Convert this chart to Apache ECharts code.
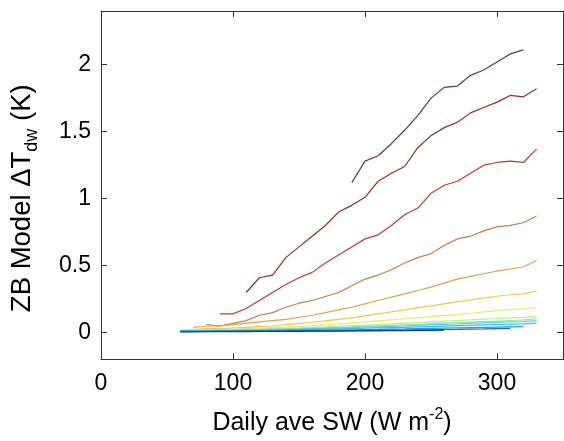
<!DOCTYPE html>
<html><head><meta charset="utf-8">
<script src="https://cdn.jsdelivr.net/npm/echarts@6/dist/echarts.min.js"></script>
<style>html,body{margin:0;padding:0;background:#fff}#c{width:564px;height:441px}</style>
</head><body><div id="c"></div>
<script>
// Daily ave SW (W m-2) sample points
var sw = [60,70,80,90,100,110,120,130,140,150,160,170,180,190,200,210,220,230,240,250,260,270,280,290,300,310,320,330];
var xTicks = [0,100,200,300];
var yTicks = [0,0.5,1,1.5,2];
// ZB model dT_dw (K), one array per curve, aligned with sw (null = no value)
var c1  = [null,null,null,null,null,null,null,null,null,null,null,null,null,1.12,1.28,1.32,1.41,1.51,1.62,1.75,1.83,1.84,1.92,1.96,2.02,2.08,2.11,null];
var c2  = [null,null,null,null,null,0.30,0.41,0.43,0.56,0.64,0.72,0.80,0.90,0.95,1.01,1.13,1.19,1.24,1.38,1.47,1.53,1.57,1.64,1.68,1.72,1.77,1.76,1.82];
var c3  = [null,null,null,0.14,0.14,0.18,0.24,0.30,0.36,0.41,0.45,0.52,0.58,0.64,0.70,0.73,0.80,0.88,0.93,1.04,1.10,1.13,1.19,1.25,1.27,1.28,1.27,1.37];
var c4  = [null,null,0.06,0.05,0.07,0.09,0.13,0.15,0.19,0.22,0.24,0.27,0.30,0.35,0.40,0.43,0.47,0.52,0.56,0.59,0.65,0.70,0.72,0.76,0.79,0.80,0.82,0.87];
var c5  = [null,0.04,0.05,0.05,0.06,0.07,0.08,0.09,0.10,0.115,0.13,0.15,0.17,0.19,0.215,0.24,0.265,0.29,0.315,0.34,0.37,0.40,0.42,0.44,0.46,0.475,0.49,0.54];
var c6  = [0.02,0.025,0.03,0.03,0.035,0.04,0.045,0.05,0.06,0.068,0.078,0.088,0.10,0.11,0.125,0.14,0.155,0.17,0.185,0.20,0.215,0.23,0.245,0.258,0.272,0.283,0.29,0.31];
var c7  = [0.018,0.02,0.022,0.024,0.026,0.03,0.034,0.038,0.042,0.047,0.053,0.06,0.066,0.073,0.08,0.088,0.096,0.104,0.112,0.12,0.128,0.136,0.145,0.155,0.165,0.172,0.178,0.19];
var c8  = [0.016,0.018,0.019,0.02,0.022,0.025,0.027,0.03,0.033,0.036,0.04,0.044,0.048,0.052,0.056,0.061,0.066,0.071,0.076,0.081,0.086,0.091,0.096,0.101,0.106,0.11,0.114,0.122];
var c9  = [0.015,0.016,0.017,0.018,0.02,0.022,0.024,0.026,0.028,0.031,0.034,0.037,0.04,0.043,0.047,0.051,0.055,0.059,0.063,0.067,0.071,0.075,0.079,0.083,0.087,0.091,0.095,0.104];
var c10 = [0.014,0.015,0.016,0.017,0.018,0.019,0.021,0.023,0.025,0.027,0.03,0.032,0.035,0.038,0.041,0.044,0.047,0.05,0.054,0.058,0.062,0.065,0.069,0.073,0.077,0.08,0.083,0.09];
var c11 = [0.012,0.013,0.014,0.015,0.016,0.017,0.018,0.02,0.021,0.023,0.025,0.027,0.029,0.031,0.033,0.036,0.038,0.04,0.043,0.046,0.049,0.052,0.055,0.058,0.061,0.064,0.066,0.072];
var c12 = [0.01,0.011,0.012,0.012,0.013,0.014,0.015,0.016,0.017,0.018,0.019,0.02,0.021,0.022,0.024,0.025,0.027,0.028,0.03,0.032,0.034,0.036,0.038,0.04,0.042,0.044,0.046,null];
var c13 = [0.008,0.009,0.009,0.01,0.01,0.011,0.011,0.012,0.012,0.013,0.014,0.014,0.015,0.016,0.017,0.018,0.019,0.02,0.021,0.022,0.024,0.025,0.027,0.028,0.03,0.032,null,null];
var c14 = [0.006,0.006,0.007,0.007,0.008,0.008,0.009,0.009,0.01,0.01,0.011,0.011,0.012,0.013,0.013,0.014,0.015,0.016,0.017,0.018,0.019,null,null,null,null,null,null,null];
var curves = [c1,c2,c3,c4,c5,c6,c7,c8,c9,c10,c11,c12,c13,c14];
var colors = ['#723434','#8e2c2c','#b83c34','#cc7a48','#e3a24a','#efc84e','#efe670','#c6ea84','#92e2a6','#56d6d6','#34c2ee','#2a96e4','#1a66d0','#0a3aa8'];

var FONT = 'Liberation Sans, Arial, Helvetica, sans-serif';
var series = curves.map(function(arr, k){
  var d = [];
  for (var i = 0; i < sw.length; i++) if (arr[i] !== null) d.push([sw[i], arr[i]]);
  return {type:'line', data:d, showSymbol:false, symbol:'none', silent:true,
    lineStyle:{color:colors[k], width:1.2}, z: 2 + k};
});
var axisCol = '#333';
function xa(pos, show){
  return {type:'value', position:pos, min:0, max:350, splitLine:{show:false},
    axisLine:{show:true, onZero:false, lineStyle:{color:axisCol, width:1}},
    axisTick:{show:true, inside:true, length:6, customValues:xTicks, lineStyle:{color:axisCol}},
    axisLabel:{show:show, customValues:xTicks, margin:13, color:'#000', fontSize:23, fontFamily:FONT},
    name: show ? '{a|Daily ave SW (W m}{p|-2}{a|)}' : '', nameLocation:'middle', nameGap:47,
    nameTextStyle:{color:'#000', fontFamily:FONT, rich:{
      a:{fontSize:25, fontFamily:FONT, color:'#000', lineHeight:34, verticalAlign:'middle'},
      p:{fontSize:16, fontFamily:FONT, color:'#000', lineHeight:16, verticalAlign:'top'}}}};
}
function ya(pos, show){
  return {type:'value', position:pos, min:-0.2, max:2.4, splitLine:{show:false},
    axisLine:{show:true, onZero:false, lineStyle:{color:axisCol, width:1}},
    axisTick:{show:true, inside:true, length:6, customValues:yTicks, lineStyle:{color:axisCol}},
    axisLabel:{show:show, customValues:yTicks, margin:10, color:'#000', fontSize:23, fontFamily:FONT},
    name: show ? '{a|ZB Model \u0394T}{s|dw}{a| (K)}' : '', nameLocation:'middle', nameGap:60, nameRotate:90,
    nameTextStyle:{color:'#000', fontFamily:FONT, padding:[0,26,0,0], rich:{
      a:{fontSize:27.5, fontFamily:FONT, color:'#000', lineHeight:38, verticalAlign:'middle'},
      s:{fontSize:18, fontFamily:FONT, color:'#000', lineHeight:18, verticalAlign:'bottom'}}}};
}
var chart = echarts.init(document.getElementById('c'), null, {renderer:'canvas'});
chart.setOption({
  animation:false,
  backgroundColor:'#fff',
  grid:{left:98, right:1, top:11, bottom:74, containLabel:false},
  xAxis:[xa('bottom', true), xa('top', false)],
  yAxis:[ya('left', true), ya('right', false)],
  series: series
});
</script></body></html>
